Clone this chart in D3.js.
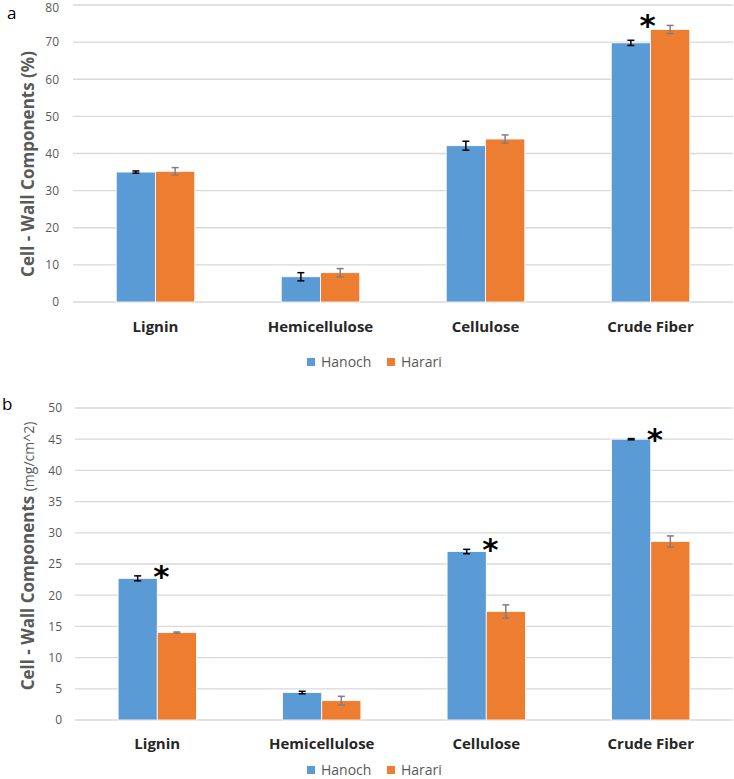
<!DOCTYPE html>
<html>
<head>
<meta charset="utf-8">
<script src="https://cdn.jsdelivr.net/npm/d3@7"></script>
<style>
  html, body { margin: 0; padding: 0; background: #fff; }
  svg { display: block; }
</style>
</head>
<body>
<svg id="chart" width="734" height="779"></svg>
<script>
// ---------- data ----------
const categories = ["Lignin", "Hemicellulose", "Cellulose", "Crude Fiber"];
const seriesNames = ["Hanoch", "Harari"];

// panel a: % of cell wall
const pctHanoch    = [35.0, 6.8, 42.1, 69.8];
const pctHarari    = [35.2, 7.9, 43.9, 73.4];
const pctHanochErr = [0.3, 1.1, 1.2, 0.7];
const pctHarariErr = [1.0, 1.1, 1.1, 1.1];
const pctTicks     = [0, 10, 20, 30, 40, 50, 60, 70, 80];
const pctSignif    = ["Crude Fiber"];

// panel b: mg/cm^2
const areaHanoch    = [22.7, 4.4, 27.0, 45.0];
const areaHarari    = [14.0, 3.1, 17.4, 28.6];
const areaHanochErr = [0.4, 0.2, 0.35, 0.1];
const areaHarariErr = [0.1, 0.7, 1.05, 0.9];
const areaTicks     = [0, 5, 10, 15, 20, 25, 30, 35, 40, 45, 50];
const areaSignif    = ["Lignin", "Cellulose", "Crude Fiber"];

// ---------- styles ----------
const colors = { Hanoch: "#5B9BD5", Harari: "#ED7D31" };
const errColors = { Hanoch: "#000000", Harari: "#7F7F7F" };
const gridColor = "#D9D9D9";
const textGrey = "#595959";
const font = "'Open Sans', 'Noto Sans', sans-serif";

const svg = d3.select("#chart");

function drawPanel(cfg) {
  const g = svg.append("g");
  const x = d3.scaleBand().domain(categories)
    .range([cfg.left, cfg.right]).paddingInner(0.524).paddingOuter(0.262);
  const xs = d3.scaleBand().domain(seriesNames).range([0, x.bandwidth()]);
  const y = d3.scaleLinear().domain([0, d3.max(cfg.ticks)]).range([cfg.bottom, cfg.top]);

  // gridlines
  g.append("g").selectAll("line").data(cfg.ticks).join("line")
    .attr("x1", cfg.left).attr("x2", cfg.right)
    .attr("y1", d => y(d)).attr("y2", d => y(d))
    .attr("stroke", gridColor).attr("stroke-width", 1.3);

  // y tick labels via axis
  const yAxis = d3.axisLeft(y).tickValues(cfg.ticks).tickSize(0).tickPadding(0);
  const ya = g.append("g").attr("transform", `translate(${cfg.labelRight},0)`).call(yAxis);
  ya.select(".domain").remove();
  ya.selectAll("text").attr("fill", textGrey).style("font-family", font).style("font-size", "12px");
  // keep the top label inside the picture
  ya.selectAll(".tick").filter(d => d === d3.max(cfg.ticks)).select("text")
    .attr("dy", cfg.topLabelDy);

  // rows
  const rows = categories.map((c, i) => ({
    cat: c,
    vals: [
      { s: "Hanoch", v: cfg.hanoch[i], e: cfg.hanochErr[i] },
      { s: "Harari", v: cfg.harari[i], e: cfg.harariErr[i] }
    ]
  }));

  const grp = g.append("g").selectAll("g").data(rows).join("g")
    .attr("transform", d => `translate(${x(d.cat)},0)`);

  grp.selectAll("rect").data(d => d.vals).join("rect")
    .attr("x", d => xs(d.s))
    .attr("y", d => y(d.v))
    .attr("width", xs.bandwidth())
    .attr("height", d => y(0) - y(d.v))
    .attr("fill", d => colors[d.s])
    .attr("stroke", "#fff").attr("stroke-width", 0.8);

  // error bars
  const eb = grp.selectAll("g.err").data(d => d.vals).join("g").attr("class", "err")
    .attr("stroke", d => errColors[d.s]).attr("stroke-width", 1.5);
  const cx = d => xs(d.s) + xs.bandwidth() / 2;
  eb.append("line").attr("x1", cx).attr("x2", cx)
    .attr("y1", d => y(d.v - d.e)).attr("y2", d => y(d.v + d.e));
  eb.append("line").attr("x1", d => cx(d) - 3.5).attr("x2", d => cx(d) + 3.5)
    .attr("y1", d => y(d.v + d.e)).attr("y2", d => y(d.v + d.e));
  eb.append("line").attr("x1", d => cx(d) - 3.5).attr("x2", d => cx(d) + 3.5)
    .attr("y1", d => y(d.v - d.e)).attr("y2", d => y(d.v - d.e));

  // significance asterisks
  g.append("g").selectAll("text").data(cfg.signif).join("text")
    .attr("x", d => x(d) + x.bandwidth() / 2 + cfg.starDx)
    .attr("y", d => {
      const i = categories.indexOf(d);
      const top = Math.max(cfg.hanoch[i] + cfg.hanochErr[i], cfg.harari[i] + cfg.harariErr[i]);
      return y(top) - 7 + 18;
    })
    .attr("text-anchor", "middle")
    .style("font-family", "'DejaVu Sans', sans-serif")
    .style("font-size", "31px")
    .style("font-weight", "bold")
    .attr("fill", "#000")
    .text("*");

  // category labels
  g.append("g").selectAll("text").data(categories).join("text")
    .attr("x", d => x(d) + x.bandwidth() / 2)
    .attr("y", cfg.catY)
    .attr("text-anchor", "middle")
    .attr("fill", "#262626")
    .style("font-family", font).style("font-size", "15px").style("font-weight", "bold")
    .text(d => d);

  // y axis title
  const t = g.append("text")
    .attr("transform", `translate(${cfg.titleX},${cfg.titleY}) rotate(-90)`)
    .attr("text-anchor", "middle")
    .attr("fill", textGrey)
    .style("font-family", font);
  t.append("tspan").style("font-size", "17px").style("font-weight", "bold").text("Cell - Wall Components ");
  t.append("tspan").style("font-size", cfg.unitSize).style("font-weight", cfg.unitWeight).text(cfg.unit);

  // panel letter
  g.append("text").attr("x", cfg.letterX).attr("y", cfg.letterY)
    .attr("fill", "#000").style("font-family", font).style("font-size", "17px")
    .text(cfg.letter);

  // legend
  const lg = g.append("g").attr("transform", `translate(0,${cfg.legendY})`);
  const legendX = { Hanoch: 307, Harari: 387 };
  const li = lg.selectAll("g").data(seriesNames).join("g")
    .attr("transform", d => `translate(${legendX[d]},0)`);
  li.append("rect").attr("x", 0).attr("y", -4).attr("width", 8).attr("height", 8)
    .attr("fill", d => colors[d]);
  li.append("text").attr("x", 14).attr("y", 5)
    .attr("fill", textGrey).style("font-family", font).style("font-size", "14px")
    .text(d => d);
}

drawPanel({
  left: 73, right: 733, top: 5, bottom: 302, labelRight: 59, topLabelDy: "0.55em",
  ticks: pctTicks, hanoch: pctHanoch, harari: pctHarari,
  hanochErr: pctHanochErr, harariErr: pctHarariErr, signif: pctSignif, starDx: -3,
  catY: 332, titleX: 34, titleY: 164, unit: "(%)", unitSize: "17px", unitWeight: "bold",
  letter: "a", letterX: 7, letterY: 19, legendY: 362
});

drawPanel({
  left: 75, right: 733, top: 408, bottom: 720, labelRight: 62, topLabelDy: "0.32em",
  ticks: areaTicks, hanoch: areaHanoch, harari: areaHarari,
  hanochErr: areaHanochErr, harariErr: areaHarariErr, signif: areaSignif, starDx: 4,
  catY: 749, titleX: 34, titleY: 556, unit: "(mg/cm^2)", unitSize: "14px", unitWeight: "normal",
  letter: "b", letterX: 2, letterY: 410, legendY: 770
});
</script>
</body>
</html>
